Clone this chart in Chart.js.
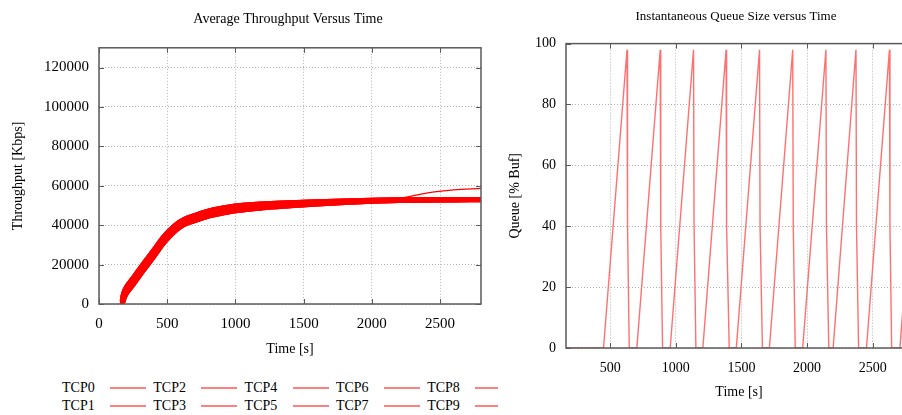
<!DOCTYPE html>
<html>
<head>
<meta charset="utf-8">
<script src="https://cdn.jsdelivr.net/npm/chart.js@4.4.1/dist/chart.umd.min.js"></script>
<style>
  html, body { margin: 0; padding: 0; background: #fff; overflow: hidden; }
  body { width: 902px; height: 415px; position: relative; font-family: 'Liberation Serif', 'DejaVu Serif', serif; }
  #left { position: absolute; left: 0; top: 0; width: 576px; height: 372px; }
  #right { position: absolute; left: 500px; top: 0; width: 472px; height: 415px; }
  #legend {
    position: absolute; left: 0; top: 379px; width: 498px; height: 36px; overflow: hidden;
    padding-left: 62px; box-sizing: border-box;
    display: grid; grid-template-columns: repeat(5, 91.3px); grid-template-rows: 18px 18px; grid-auto-flow: column;
    font-size: 14px; color: #000;
  }
  .item { display: flex; align-items: center; white-space: nowrap; }
  .item .name { width: 48px; }
  .item .swatch { width: 36px; height: 2px; background: #ff8080; }
</style>
</head>
<body>
<canvas id="left" width="576" height="372"></canvas>
<canvas id="right" width="472" height="415"></canvas>
<div id="legend"></div>
<script>
// ---- data: average throughput (Kbps) vs time (s)
const seriesNames = ['TCP0', 'TCP1', 'TCP2', 'TCP3', 'TCP4', 'TCP5', 'TCP6', 'TCP7', 'TCP8', 'TCP9'];
const timeSec = [168, 175, 190, 250, 300, 400, 470, 520, 570, 620, 700, 800, 900, 1000, 1200, 1400, 1600, 1800, 2000, 2200, 2400, 2600, 2800];
const tputLow  = [0, 700, 3800, 9700, 14500, 23700, 30500, 34400, 37700, 40100, 42200, 44400, 45900, 47200, 48700, 49700, 50600, 51400, 52000, 52400, 52550, 52700, 52800];
const tputMid  = [0, 2500, 5600, 11500, 16300, 25500, 32200, 36000, 39200, 41500, 43600, 45800, 47300, 48500, 49800, 50600, 51300, 51900, 52400, 52700, 52800, 52900, 53000];
const tputHigh = [1500, 4300, 7400, 13300, 18100, 27300, 33900, 37600, 40700, 42900, 45000, 47200, 48700, 49800, 50900, 51500, 52000, 52400, 52800, 53000, 53050, 53100, 53200];
const tputLate = [0, 2500, 5600, 11500, 16300, 25500, 32200, 36000, 39200, 41500, 43600, 45800, 47300, 48500, 49800, 50600, 51300, 51900, 52400, 53600, 56300, 57900, 58700];
const seriesValues = [tputHigh, tputMid, tputLow, tputHigh, tputMid, tputLow, tputMid, tputHigh, tputLow, tputLate];
const throughputTicks = [0, 20000, 40000, 60000, 80000, 100000, 120000];
const timeTicksLeft = [0, 500, 1000, 1500, 2000, 2500];

// ---- data: instantaneous queue size (% of buffer) vs time (s)
const queueTime = [163, 449, 628, 632, 645, 703, 881, 885, 899, 957, 1135, 1139, 1153, 1206, 1383, 1387, 1407,
  1461, 1638, 1642, 1660, 1713, 1891, 1895, 1910, 1967, 2144, 2148, 2166, 2199, 2373, 2377, 2393,
  2453, 2628, 2632, 2645, 2708, 2800];
const queueValue = [0, 0, 98, 40, 0, 0, 98, 40, 0, 0, 98, 40, 0, 0, 98, 40, 0,
  0, 98, 40, 0, 0, 98, 40, 0, 0, 98, 40, 0, 0, 98, 40, 0,
  0, 98, 40, 0, 0, 52];
const queueTicks = [0, 20, 40, 60, 80, 100];
const timeTicksRight = [500, 1000, 1500, 2000, 2500];

const serif = "'Liberation Serif', 'DejaVu Serif', serif";
const gridColor = '#b4b4b4';

// gnuplot style box with inward tics, drawn over the data
const framePlugin = {
  id: 'frame',
  afterDatasetsDraw(chart) {
    const { ctx, chartArea: a, scales } = chart;
    ctx.save();
    ctx.strokeStyle = '#5a5a5a';
    ctx.lineWidth = 1.5;
    ctx.strokeRect(a.left, a.top, a.right - a.left, a.bottom - a.top);
    ctx.lineWidth = 1;
    ctx.beginPath();
    scales.x.ticks.forEach(t => {
      const px = Math.round(scales.x.getPixelForValue(t.value)) + 0.5;
      ctx.moveTo(px, a.bottom); ctx.lineTo(px, a.bottom - 5);
      ctx.moveTo(px, a.top); ctx.lineTo(px, a.top + 5);
    });
    scales.y.ticks.forEach(t => {
      const py = Math.round(scales.y.getPixelForValue(t.value)) + 0.5;
      ctx.moveTo(a.left, py); ctx.lineTo(a.left + 5, py);
      ctx.moveTo(a.right, py); ctx.lineTo(a.right - 5, py);
    });
    ctx.stroke();
    ctx.restore();
  }
};

function axis(opts) {
  return {
    type: 'linear',
    min: opts.min,
    max: opts.max,
    afterBuildTicks: s => { s.ticks = opts.ticks.map(v => ({ value: v })); },
    afterFit: s => { if (opts.width) s.width = opts.width; if (opts.height) s.height = opts.height; },
    grid: { color: gridColor, lineWidth: 1, drawTicks: false },
    border: { display: false, dash: [1, 2] },
    ticks: {
      color: '#000', font: { family: serif, size: opts.tickSize }, padding: opts.tickPad,
      maxRotation: 0, autoSkip: false, callback: v => String(v)
    },
    title: { display: true, text: opts.title, color: '#000', font: { family: serif, size: opts.titleSize }, padding: opts.titlePad }
  };
}

// empty right-hand axis that only reserves room, so the title centres over the plot
function spacer(width) {
  return {
    type: 'linear', position: 'right', display: true,
    grid: { display: false }, border: { display: false }, ticks: { display: false },
    afterFit: s => { s.width = width; }
  };
}

// left chart: average throughput
new Chart(document.getElementById('left'), {
  type: 'line',
  data: {
    datasets: seriesNames.map((name, i) => ({
      label: name,
      data: timeSec.map((t, k) => ({ x: t, y: seriesValues[i][k] })),
      borderColor: '#ff0000',
      borderWidth: i === 9 ? 1.2 : 4.5,
      pointRadius: 0,
      cubicInterpolationMode: 'monotone'
    }))
  },
  options: {
    responsive: false,
    animation: false,
    layout: { padding: 0 },
    plugins: {
      legend: { display: false },
      tooltip: { enabled: false },
      title: { display: true, text: 'Average Throughput Versus Time', color: '#000',
        font: { family: serif, size: 14, weight: 'normal' }, padding: { top: 11, bottom: 20 } }
    },
    scales: {
      x: axis({ min: 0, max: 2800, ticks: timeTicksLeft, height: 68, tickSize: 15, tickPad: 11,
        title: 'Time [s]', titleSize: 14, titlePad: { top: 0, bottom: 14 } }),
      y: axis({ min: 0, max: 130000, ticks: throughputTicks, width: 99, tickSize: 15, tickPad: 10,
        title: 'Throughput [Kbps]', titleSize: 14, titlePad: { top: 10, bottom: 0 } }),
      pad: spacer(95)
    }
  },
  plugins: [framePlugin]
});

// right chart: instantaneous queue size
new Chart(document.getElementById('right'), {
  type: 'line',
  data: {
    datasets: [{
      label: 'Queue',
      data: queueTime.map((t, k) => ({ x: t, y: queueValue[k] })),
      borderColor: '#ff7070',
      borderWidth: 1.4,
      pointRadius: 0,
      tension: 0
    }]
  },
  options: {
    responsive: false,
    animation: false,
    layout: { padding: 0 },
    plugins: {
      legend: { display: false },
      tooltip: { enabled: false },
      title: { display: true, text: 'Instantaneous Queue Size versus Time', color: '#000',
        font: { family: serif, size: 13, weight: 'normal' }, padding: { top: 9, bottom: 19 } }
    },
    scales: {
      x: axis({ min: 163, max: 2800, ticks: timeTicksRight, height: 67, tickSize: 14, tickPad: 12,
        title: 'Time [s]', titleSize: 14, titlePad: { top: 0, bottom: 14 } }),
      y: axis({ min: 0, max: 100, ticks: queueTicks, width: 66, tickSize: 14, tickPad: 10,
        title: 'Queue [% Buf]', titleSize: 14, titlePad: { top: 7, bottom: 0 } }),
      pad: spacer(60)
    }
  },
  plugins: [framePlugin]
});

// legend: name followed by a line sample, two rows
const legend = document.getElementById('legend');
seriesNames.forEach(name => {
  const item = document.createElement('div');
  item.className = 'item';
  item.innerHTML = '<span class="name">' + name + '</span><span class="swatch"></span>';
  legend.appendChild(item);
});
</script>
</body>
</html>
